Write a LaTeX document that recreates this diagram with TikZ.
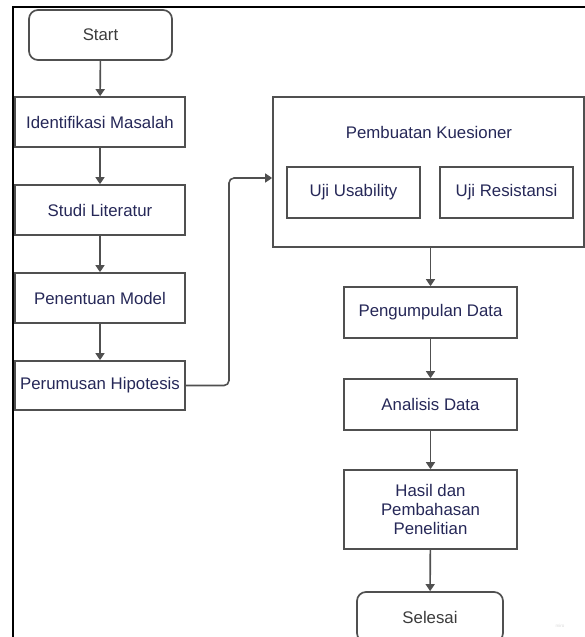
\documentclass[tikz,border=0pt]{standalone}
\usepackage{fontspec}
\setmainfont{Liberation Sans}
\usetikzlibrary{arrows.meta}
\definecolor{navy}{HTML}{262858}
\definecolor{linec}{HTML}{505050}
\definecolor{termtext}{HTML}{3C3C3C}
\tikzset{
  x=1pt, y=-1pt,
  box/.style={draw=linec, line width=1.7pt, fill=white, align=center, font=\fontsize{16.8}{19}\selectfont, text=navy, inner sep=2pt},
  term/.style={box, rounded corners=9pt, text=termtext},
  inbox/.style={box},
  conn/.style={draw=linec, line width=1.6pt, -{Triangle[width=9pt,length=7pt]}}
}
\begin{document}
\begin{tikzpicture}
\useasboundingbox (0,0) rectangle (585,637);
\clip (0,0) rectangle (585,637);
% frame
\draw[line width=2.4pt, black] (13,637) -- (13,7) -- (585,7);
% left column
\node[term, minimum width=143pt, minimum height=50pt] (start) at (100.5,35) {Start};
\node[box, minimum width=170pt, minimum height=50pt] (ident) at (100,122) {Identifikasi Masalah};
\node[box, minimum width=170pt, minimum height=50pt] (studi) at (100,210) {Studi Literatur};
\node[box, minimum width=170pt, minimum height=50pt] (model) at (100,298) {Penentuan Model};
\node[box, minimum width=170pt, minimum height=49pt] (hipo) at (100,385.5) {Perumusan Hipotesis};
% questionnaire group
\node[box, minimum width=311pt, minimum height=150pt] (kues) at (428.5,172) {};
\node[text=navy, font=\fontsize{16.8}{19}\selectfont] (kuestitle) at (429,132) {Pembuatan Kuesioner};
\node[inbox, minimum width=133pt, minimum height=51pt] (usab) at (353.5,192.5) {Uji Usability};
\node[inbox, minimum width=133pt, minimum height=51pt] (resis) at (506.5,192.5) {Uji Resistansi};
% right column
\node[box, minimum width=173pt, minimum height=51pt] (kumpul) at (430.5,312.5) {Pengumpulan Data};
\node[box, minimum width=173pt, minimum height=51pt] (anal) at (430.5,404.5) {Analisis Data};
\node[box, minimum width=173pt, minimum height=79pt] (hasil) at (430.5,509.5) {Hasil dan\\Pembahasan\\Penelitian};
\node[term, minimum width=146pt, minimum height=50pt] (selesai) at (430,617) {Selesai};
% connectors
\draw[conn] (start) -- (ident);
\draw[conn] (ident) -- (studi);
\draw[conn] (studi) -- (model);
\draw[conn] (model) -- (hipo);
\coordinate (kin) at (kues.west |- 0,178);
\draw[conn, rounded corners=5pt] (hipo.east) -- (229,385.5) -- (229,178) -- (kin);
\draw[conn] (kues.south -| kumpul.north) -- (kumpul.north);
\draw[conn] (kumpul) -- (anal);
\draw[conn] (anal) -- (hasil);
\draw[conn] (hasil) -- (selesai);
% watermark
\node[text=black!15, font=\fontsize{4.5}{5}\selectfont] (miro) at (560,626) {miro};
\end{tikzpicture}
\end{document}
